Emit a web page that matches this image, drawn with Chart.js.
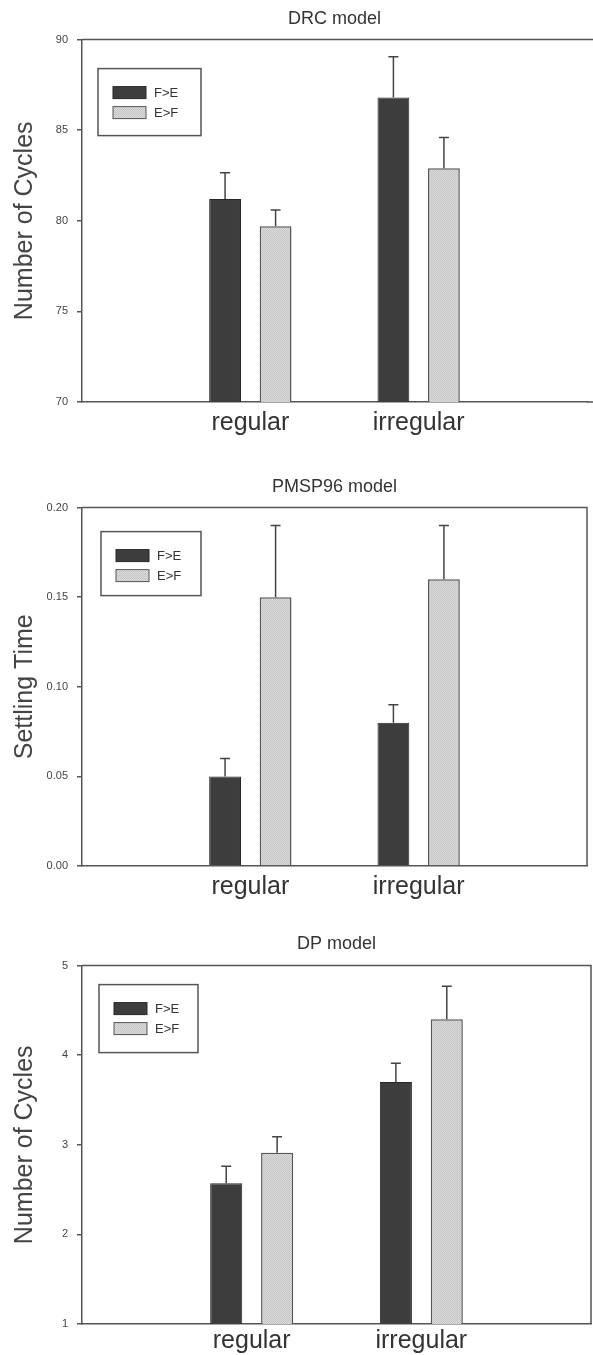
<!DOCTYPE html>
<html lang="en">

<head>
    <meta charset="UTF-8" />
    <title>Modelos</title>
    <script src="https://cdn.jsdelivr.net/npm/chart.js"></script>
    <style>
        body { margin: 0; background: #fff; }
        canvas { display: block; }
    </style>
</head>

<body>
    <canvas id="grafico_drc" width="593" height="440"></canvas>
    <canvas id="grafico_pmsp" width="593" height="464"></canvas>
    <canvas id="grafico_dp" width="593" height="451"></canvas>
</body>

<script>

    // categorias e series
    var grupos = ['regular', 'irregular'];
    var nome_fe = 'F>E';
    var nome_ef = 'E>F';

    // DRC model
    var drc_ticks = [70, 75, 80, 85, 90];
    var drc_fe = [81.2, 86.8];
    var drc_fe_erro = [1.45, 2.25];
    var drc_ef = [79.7, 82.9];
    var drc_ef_erro = [0.9, 1.7];

    // PMSP96 model
    var pmsp_ticks = [0.00, 0.05, 0.10, 0.15, 0.20];
    var pmsp_fe = [0.05, 0.08];
    var pmsp_fe_erro = [0.01, 0.01];
    var pmsp_ef = [0.15, 0.16];
    var pmsp_ef_erro = [0.04, 0.03];

    // DP model
    var dp_ticks = [1, 2, 3, 4, 5];
    var dp_fe = [2.57, 3.70];
    var dp_fe_erro = [0.19, 0.21];
    var dp_ef = [2.91, 4.40];
    var dp_ef_erro = [0.18, 0.37];

    Chart.defaults.font.family = '"Liberation Sans", Arial, sans-serif';

    // barra de erro so para cima, com traco no topo
    const barras_erro = {
        id: 'barras_erro',
        afterDatasetsDraw(chart) {
            const ctx = chart.ctx;
            const escala_y = chart.scales.y;
            chart.data.datasets.forEach(function (ds, i) {
                const meta = chart.getDatasetMeta(i);
                meta.data.forEach(function (barra, j) {
                    const v = ds.data[j];
                    if (v == null) return;
                    const topo = escala_y.getPixelForValue(v + ds.erros[j]);
                    ctx.save();
                    ctx.strokeStyle = '#444';
                    ctx.lineWidth = 1.5;
                    ctx.beginPath();
                    ctx.moveTo(barra.x, barra.y);
                    ctx.lineTo(barra.x, topo);
                    ctx.moveTo(barra.x - 5, topo);
                    ctx.lineTo(barra.x + 5, topo);
                    ctx.stroke();
                    ctx.restore();
                });
            });
        }
    };

    // moldura do grafico e caixa de legenda
    const moldura = {
        id: 'moldura',
        afterDraw(chart, args, opts) {
            const a = chart.chartArea;
            const ctx = chart.ctx;
            ctx.save();
            ctx.strokeStyle = '#555';
            ctx.lineWidth = 1.5;
            ctx.beginPath();
            ctx.moveTo(a.left, a.top);
            if (opts.direita) {
                ctx.lineTo(a.right, a.top);
                ctx.lineTo(a.right, a.bottom);
            } else {
                ctx.lineTo(chart.width, a.top);
                ctx.moveTo(a.right, a.bottom);
                ctx.lineTo(chart.width, a.bottom);
            }
            ctx.stroke();

            const cx = a.left + opts.caixa[0];
            const cy = a.top + opts.caixa[1];
            ctx.strokeRect(cx, cy, opts.caixa[2], opts.caixa[3]);
            chart.data.datasets.forEach(function (ds, i) {
                const sy = cy + 18 + i * 20;
                ctx.fillStyle = ds.backgroundColor;
                ctx.fillRect(cx + 15, sy, 33, 12);
                ctx.strokeStyle = ds.borderColor;
                ctx.lineWidth = 1;
                ctx.strokeRect(cx + 15, sy, 33, 12);
                ctx.fillStyle = '#333';
                ctx.font = '13px "Liberation Sans", Arial';
                ctx.textBaseline = 'middle';
                ctx.fillText(ds.label, cx + 56, sy + 6.5);
            });
            ctx.restore();
        }
    };

    // textura pontilhada clara da serie E>F
    function pontilhado(ctx) {
        var c = document.createElement('canvas');
        c.width = 2;
        c.height = 2;
        var p = c.getContext('2d');
        p.fillStyle = '#dcdcdc';
        p.fillRect(0, 0, 2, 2);
        p.fillStyle = '#c4c4c4';
        p.fillRect(0, 0, 1, 1);
        p.fillRect(1, 1, 1, 1);
        return ctx.createPattern(c, 'repeat');
    }

    function criar_grafico(id, titulo, titulo_y, fe, fe_erro, ef, ef_erro, ticks, casas, cfg) {
        const canvas = document.getElementById(id);
        const ctx = canvas.getContext('2d');
        new Chart(canvas, {
            type: 'bar',
            data: {
                labels: [''].concat(grupos, ['']),
                datasets: [{
                    label: nome_fe,
                    data: [null].concat(fe, [null]),
                    erros: [null].concat(fe_erro, [null]),
                    backgroundColor: '#3d3d3d',
                    borderColor: '#262626',
                    borderWidth: 1,
                    categoryPercentage: 0.6,
                    barPercentage: 0.63
                }, {
                    label: nome_ef,
                    data: [null].concat(ef, [null]),
                    erros: [null].concat(ef_erro, [null]),
                    backgroundColor: pontilhado(ctx),
                    borderColor: '#555',
                    borderWidth: 1.5,
                    categoryPercentage: 0.6,
                    barPercentage: 0.63
                }]
            },
            options: {
                responsive: false,
                animation: false,
                layout: { padding: { left: 0, right: 2, top: 0, bottom: 0 } },
                plugins: {
                    legend: { display: false },
                    tooltip: { enabled: false },
                    title: {
                        display: true,
                        text: titulo,
                        fullSize: false,
                        color: '#333',
                        font: { size: 18, weight: 'normal' },
                        padding: { top: cfg.titulo_topo, bottom: cfg.titulo_baixo }
                    },
                    moldura: { direita: cfg.direita, caixa: cfg.caixa }
                },
                scales: {
                    x: {
                        offset: false,
                        grid: { display: true, drawOnChartArea: false, drawTicks: false },
                        border: { color: '#555', width: 1.5 },
                        ticks: { autoSkip: false, maxRotation: 0, padding: cfg.espaco_x, color: '#333', font: { size: 25 } },
                        afterFit: function (s) { s.height = cfg.altura_x; }
                    },
                    y: {
                        min: ticks[0],
                        max: ticks[ticks.length - 1],
                        afterBuildTicks: function (s) {
                            s.ticks = ticks.map(function (v) { return { value: v }; });
                        },
                        grid: { drawOnChartArea: false, drawTicks: true, tickLength: 5, color: '#555', lineWidth: 1.5 },
                        border: { color: '#555', width: 1.5 },
                        ticks: {
                            padding: 9,
                            color: '#444',
                            font: { size: 11 },
                            callback: function (v) { return Number(v).toFixed(casas); }
                        },
                        title: {
                            display: true,
                            text: titulo_y,
                            color: '#444',
                            font: { size: 25 },
                            padding: { top: 10, bottom: 0 }
                        },
                        afterFit: function (s) { s.width = 82; }
                    }
                }
            },
            plugins: [barras_erro, moldura]
        });
    }

    criar_grafico('grafico_drc', 'DRC model', 'Number of Cycles',
        drc_fe, drc_fe_erro, drc_ef, drc_ef_erro, drc_ticks, 0,
        { titulo_topo: 8, titulo_baixo: 10, altura_x: 38, espaco_x: 6, direita: false, caixa: [16, 29, 103, 67] });

    criar_grafico('grafico_pmsp', 'PMSP96 model', 'Settling Time',
        pmsp_fe, pmsp_fe_erro, pmsp_ef, pmsp_ef_erro, pmsp_ticks, 2,
        { titulo_topo: 36, titulo_baixo: 10, altura_x: 38, espaco_x: 6, direita: true, caixa: [19, 24, 100, 64] });

    criar_grafico('grafico_dp', 'DP model', 'Number of Cycles',
        dp_fe, dp_fe_erro, dp_ef, dp_ef_erro, dp_ticks, 0,
        { titulo_topo: 29, titulo_baixo: 11, altura_x: 31, espaco_x: 2, direita: true, caixa: [17, 19, 99, 68] });

</script>

</html>
